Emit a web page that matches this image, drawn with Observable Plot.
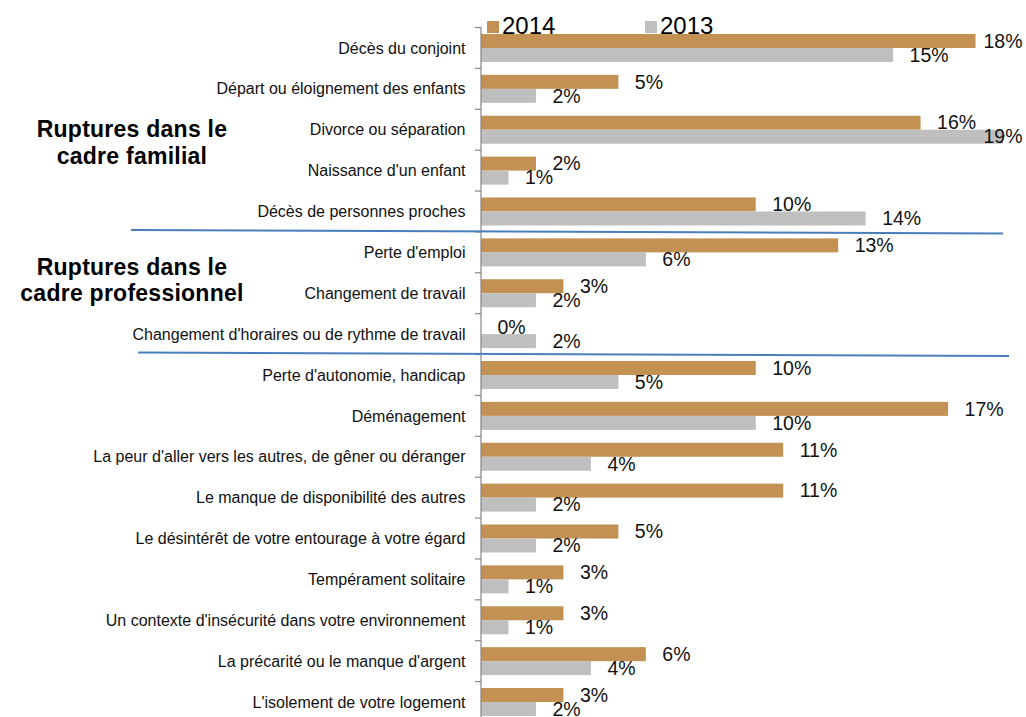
<!DOCTYPE html>
<html>
<head>
<meta charset="utf-8">
<script src="https://cdn.jsdelivr.net/npm/d3@7"></script>
<script src="https://cdn.jsdelivr.net/npm/@observablehq/plot@0.6"></script>
<style>
  html, body { margin: 0; padding: 0; background: #fff; overflow: hidden; }
  #wrap { position: relative; width: 1026px; height: 717px; font-family: "Liberation Sans", Arial, sans-serif; }
  .legend { position: absolute; top: 0; left: 0; width: 1026px; height: 40px; pointer-events: none; }
  .legend .item { position: absolute; top: 12px; display: flex; align-items: center; font-size: 24px; color: #000; line-height: 28px; }
  .legend .sw { width: 12px; height: 12px; margin-right: 3px; margin-top: 1px; }
</style>
</head>
<body>
<div id="wrap"></div>
<script>
(function () {
// ---- Data ----
const categories = [
  "Décès du conjoint",
  "Départ ou éloignement des enfants",
  "Divorce ou séparation",
  "Naissance d'un enfant",
  "Décès de personnes proches",
  "Perte d'emploi",
  "Changement de travail",
  "Changement d'horaires ou de rythme de travail",
  "Perte d'autonomie, handicap",
  "Déménagement",
  "La peur d'aller vers les autres, de gêner ou déranger",
  "Le manque de disponibilité des autres",
  "Le désintérêt de votre entourage à votre égard",
  "Tempérament solitaire",
  "Un contexte d'insécurité dans votre environnement",
  "La précarité ou le manque d'argent",
  "L'isolement de votre logement"
];
const seriesNames = ["2014", "2013"];
const values2014 = [18, 5, 16, 2, 10, 13, 3, 0, 10, 17, 11, 11, 5, 3, 3, 6, 3];
const values2013 = [15, 2, 19, 1, 14, 6, 2, 2, 5, 10, 4, 2, 2, 1, 1, 4, 2];
const seriesColors = ["#C29153", "#BFBFBF"];

const groupHeaders = [
  { lines: ["Ruptures dans le", "cadre familial"], anchor: "Divorce ou séparation", offset: 7.5 },
  { lines: ["Ruptures dans le", "cadre professionnel"], anchor: "Perte d'emploi", offset: 22.5 }
];
const separatorsAfter = ["Décès de personnes proches", "Changement d'horaires ou de rythme de travail"];

const rows2014 = categories.map((c, i) => ({ cat: c, year: seriesNames[0], value: values2014[i] }));
const rows2013 = categories.map((c, i) => ({ cat: c, year: seriesNames[1], value: values2013[i] }));

const W = 1026, H = 717;
const xMax = 19;
const fmt = d => d.value + "%";
// labels that would run past the right edge are pulled back inside it
const fits = d => d.value < 18;
const labelStyle = { fontSize: 19.5, fill: "#111" };

const plot = Plot.plot({
  width: W,
  height: H,
  marginLeft: 481,
  marginRight: 23,
  marginTop: 0,
  marginBottom: 0,
  style: { fontFamily: "'Liberation Sans', Arial, sans-serif", background: "transparent", overflow: "visible" },
  x: { domain: [0, xMax], axis: null },
  y: { domain: categories, range: [21.1, 728.9], padding: 0.315, round: false, axis: null, label: null },
  marks: [
    Plot.barX(rows2014, { x: "value", y: "cat", fill: seriesColors[0], insetBottom: 14 }),
    Plot.barX(rows2013, { x: "value", y: "cat", fill: seriesColors[1], insetTop: 14 }),
    Plot.axisY({ tickSize: 0, tickPadding: 16, fontSize: 16, fill: "#111", label: null }),
    Plot.text(rows2014.filter(fits), { x: "value", y: "cat", text: fmt, dx: 16, dy: -7, textAnchor: "start", ...labelStyle }),
    Plot.text(rows2013.filter(fits), { x: "value", y: "cat", text: fmt, dx: 16, dy: 7, textAnchor: "start", ...labelStyle }),
    Plot.text(rows2014.filter(d => !fits(d)), { x: () => xMax, y: "cat", text: fmt, dx: 19, dy: -7, textAnchor: "end", ...labelStyle }),
    Plot.text(rows2013.filter(d => !fits(d)), { x: () => xMax, y: "cat", text: fmt, dx: 19, dy: 7, textAnchor: "end", ...labelStyle })
  ]
});

const ys = plot.scale("y");
const xs = plot.scale("x");
const step = ys.step;
const bw = ys.bandwidth;
const boundary = c => ys.apply(c) - (step - bw) / 2;
const center = c => ys.apply(c) + bw / 2;
const x0 = xs.apply(0);

const svg = d3.select(plot);
svg.selectAll("text").attr("font-family", "'Liberation Sans', Arial, sans-serif");

const yTop = boundary(categories[0]);
const yBottom = boundary(categories[categories.length - 1]) + step;
const deco = svg.append("g");
deco.append("line").attr("x1", x0).attr("x2", x0).attr("y1", yTop).attr("y2", yBottom)
  .attr("stroke", "#868686").attr("stroke-width", 1.2);
const tickYs = categories.map(boundary).concat([yBottom]);
deco.selectAll("line.tk").data(tickYs).join("line").attr("class", "tk")
  .attr("x1", x0 - 6).attr("x2", x0).attr("y1", d => d).attr("y2", d => d)
  .attr("stroke", "#868686").attr("stroke-width", 1.2);

separatorsAfter.forEach((c, i) => {
  const yb = boundary(c) + step;
  deco.append("line")
    .attr("x1", i === 0 ? 131 : 138).attr("x2", i === 0 ? xs.apply(xMax) : xs.apply(xMax) + 6)
    .attr("y1", yb - 2).attr("y2", yb + 1.5)
    .attr("stroke", "#4A7EBB").attr("stroke-width", 2);
});

groupHeaders.forEach(g => {
  const base = center(g.anchor) + g.offset;
  const t = deco.append("text")
    .attr("text-anchor", "middle")
    .attr("font-family", "'Liberation Sans', Arial, sans-serif")
    .attr("font-weight", "bold").attr("font-size", 23)
    .attr("letter-spacing", "0.25px")
    .attr("fill", "#000");
  g.lines.forEach((ln, k) => {
    t.append("tspan").attr("x", 132).attr("y", base + k * 26.5).text(ln);
  });
});

const wrap = document.getElementById("wrap");
wrap.appendChild(plot);

const legend = document.createElement("div");
legend.className = "legend";
const legendLeft = [487, 645];
seriesNames.forEach((name, i) => {
  const item = document.createElement("div");
  item.className = "item";
  item.style.left = legendLeft[i] + "px";
  const sw = document.createElement("span");
  sw.className = "sw";
  sw.style.background = seriesColors[i];
  const tx = document.createElement("span");
  tx.textContent = name;
  item.appendChild(sw);
  item.appendChild(tx);
  legend.appendChild(item);
});
wrap.appendChild(legend);
})();
</script>
</body>
</html>
